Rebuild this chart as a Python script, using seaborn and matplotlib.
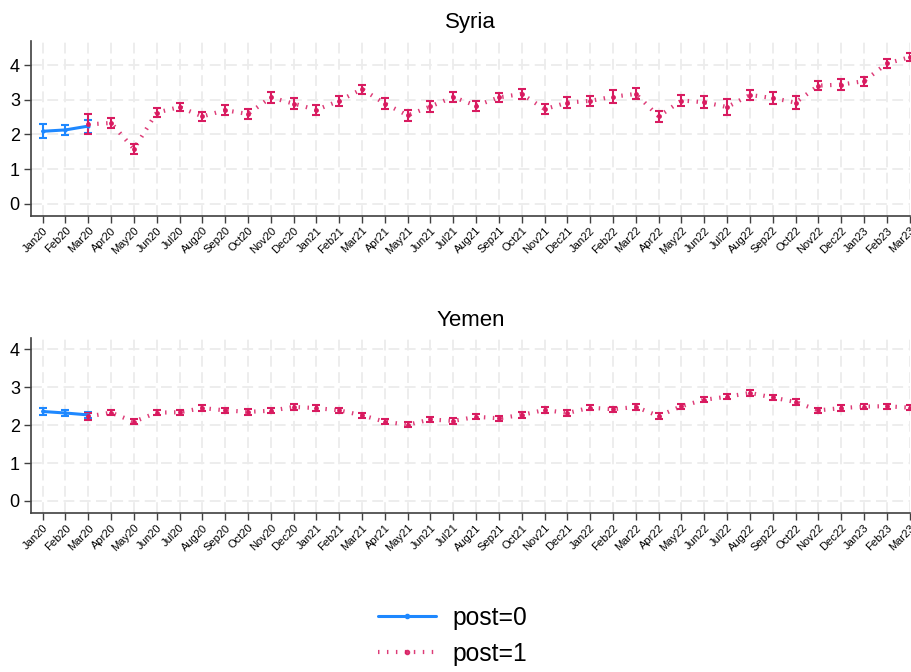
import numpy as np
import pandas as pd
import matplotlib
matplotlib.use('Agg')
import matplotlib.pyplot as plt
import seaborn as sns
from matplotlib.lines import Line2D

months = ['Jan20', 'Feb20', 'Mar20', 'Apr20', 'May20', 'Jun20', 'Jul20', 'Aug20', 'Sep20', 'Oct20',
          'Nov20', 'Dec20', 'Jan21', 'Feb21', 'Mar21', 'Apr21', 'May21', 'Jun21', 'Jul21', 'Aug21',
          'Sep21', 'Oct21', 'Nov21', 'Dec21', 'Jan22', 'Feb22', 'Mar22', 'Apr22', 'May22', 'Jun22',
          'Jul22', 'Aug22', 'Sep22', 'Oct22', 'Nov22', 'Dec22', 'Jan23', 'Feb23', 'Mar23']

# post=0 covers Jan20-Mar20, post=1 covers Mar20-Mar23
syria_pre = [2.09, 2.13, 2.24]
syria_pre_ci = [0.20, 0.15, 0.19]
syria_post = [2.29, 2.33, 1.58, 2.63, 2.79, 2.52, 2.70, 2.59, 3.07, 2.89, 2.71, 2.97, 3.31, 2.89,
              2.55, 2.81, 3.08, 2.83, 3.07, 3.17, 2.73, 2.92, 2.97, 3.09, 3.17, 2.52, 2.98, 2.93,
              2.79, 3.14, 3.05, 2.92, 3.41, 3.44, 3.54, 4.05, 4.23]
syria_post_ci = [0.29, 0.14, 0.14, 0.13, 0.12, 0.12, 0.14, 0.14, 0.15, 0.15, 0.14, 0.15, 0.13, 0.15,
                 0.15, 0.15, 0.14, 0.15, 0.14, 0.14, 0.15, 0.16, 0.15, 0.19, 0.16, 0.15, 0.16, 0.18,
                 0.22, 0.15, 0.17, 0.18, 0.14, 0.15, 0.13, 0.12, 0.11]

yemen_pre = [2.36, 2.32, 2.27]
yemen_pre_ci = [0.08, 0.08, 0.07]
yemen_post = [2.23, 2.33, 2.09, 2.33, 2.34, 2.45, 2.39, 2.35, 2.38, 2.48, 2.45, 2.39, 2.26, 2.09,
              2.01, 2.15, 2.11, 2.22, 2.18, 2.27, 2.40, 2.32, 2.46, 2.42, 2.48, 2.24, 2.50, 2.67,
              2.75, 2.85, 2.73, 2.61, 2.39, 2.45, 2.49, 2.50, 2.46]
yemen_post_ci = [0.09, 0.07, 0.07, 0.07, 0.07, 0.07, 0.07, 0.07, 0.07, 0.07, 0.07, 0.07, 0.07, 0.07,
                 0.07, 0.07, 0.07, 0.07, 0.07, 0.07, 0.07, 0.07, 0.07, 0.07, 0.07, 0.07, 0.07, 0.07,
                 0.07, 0.07, 0.07, 0.07, 0.07, 0.07, 0.07, 0.07, 0.07]

blue = '#1E88FF'
pink = '#D81B60'
pink_ls = (0, (0.35, 1.8))

sns.set_theme(style='white')
plt.rcParams['font.family'] = ['Liberation Sans', 'DejaVu Sans']
plt.rcParams['text.color'] = 'black'
plt.rcParams['xtick.labelcolor'] = 'black'
plt.rcParams['ytick.labelcolor'] = 'black'

fig = plt.figure(figsize=(9.11, 6.72), dpi=100)
ax1 = fig.add_axes([0.034, 0.679, 0.965, 0.260])
ax2 = fig.add_axes([0.034, 0.2366, 0.965, 0.2604])

panels = [(ax1, 'Syria', syria_pre, syria_pre_ci, syria_post, syria_post_ci, (-0.35, 4.7)),
          (ax2, 'Yemen', yemen_pre, yemen_pre_ci, yemen_post, yemen_post_ci, (-0.32, 4.3))]

for ax, name, pre, pre_ci, post, post_ci, ylim in panels:
    pre_df = pd.DataFrame({'t': np.arange(len(pre)), 'est': pre, 'ci': pre_ci})
    post_df = pd.DataFrame({'t': np.arange(2, 2 + len(post)), 'est': post, 'ci': post_ci})

    ax.errorbar(pre_df['t'], pre_df['est'], yerr=pre_df['ci'], fmt='none', ecolor=blue,
                elinewidth=1.5, capsize=3, capthick=1.5, zorder=3)
    sns.lineplot(data=pre_df, x='t', y='est', ax=ax, color=blue, linewidth=2.2,
                 marker='o', markersize=3, markeredgewidth=0, zorder=4)

    ax.errorbar(post_df['t'], post_df['est'], yerr=post_df['ci'], fmt='none', ecolor=pink,
                elinewidth=1.5, capsize=3, capthick=1.5, zorder=3)
    sns.lineplot(data=post_df, x='t', y='est', ax=ax, color=pink, linewidth=3,
                 linestyle=pink_ls, alpha=0.85, zorder=2)
    sns.scatterplot(data=post_df, x='t', y='est', ax=ax, color=pink, s=12,
                    linewidth=0, zorder=4)

    ax.set_xlim(-0.51, 38.02)
    ax.set_ylim(*ylim)
    ax.set_xticks(np.arange(len(months)))
    ax.set_xticklabels(months, rotation=45, ha='right', rotation_mode='anchor', fontsize=8)
    ax.set_yticks([0, 1, 2, 3, 4])
    ax.tick_params(axis='y', labelsize=13, length=5, width=1, color='#404040', pad=3, left=True)
    ax.tick_params(axis='x', length=5, width=1, color='#404040', pad=2, bottom=True)
    ax.set_xlabel('')
    ax.set_ylabel('')
    ax.set_title(name, fontsize=16, pad=9, color='black')
    ax.grid(True, color='#ececec', linewidth=1.3, linestyle=(0, (6, 3)))
    ax.set_axisbelow(True)
    sns.despine(ax=ax)
    for side in ['left', 'bottom']:
        ax.spines[side].set_color('#404040')
        ax.spines[side].set_linewidth(1.2)

handles = [Line2D([], [], color=blue, linewidth=2.2, marker='o', markersize=3),
           Line2D([], [], color=pink, linewidth=3, linestyle=pink_ls, marker='o', markersize=3,
                  alpha=0.85)]
fig.legend(handles, ['post=0', 'post=1'], loc='center', bbox_to_anchor=(0.497, 0.054),
           frameon=False, fontsize=17.7, handlelength=2.36, handletextpad=0.65, labelspacing=0.5)

fig.savefig('out.png', dpi=100)
